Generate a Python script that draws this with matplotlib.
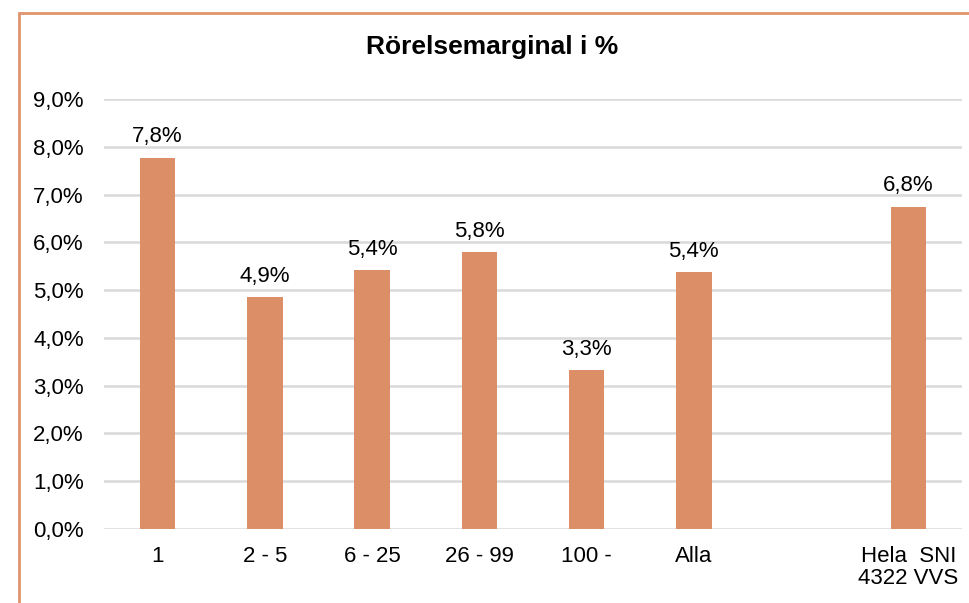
import matplotlib.pyplot as plt
from matplotlib.patches import Rectangle

plt.rcParams['font.family'] = ['Liberation Sans', 'DejaVu Sans']

# Data
categories = ['1', '2 - 5', '6 - 25', '26 - 99', '100 -', 'Alla', '', 'Hela  SNI\n4322 VVS']
values = [7.77, 4.86, 5.42, 5.80, 3.32, 5.38, None, 6.75]
yticks = [0, 1, 2, 3, 4, 5, 6, 7, 8, 9]

bar_color = '#DC8F66'

fig = plt.figure(figsize=(9.7, 6.03), dpi=100)
ax = fig.add_axes([104 / 970, 1 - 529 / 603, 858 / 970, 430 / 603])

xs = [i for i, v in enumerate(values) if v is not None]
vs = [v for v in values if v is not None]
bars = ax.bar(xs, vs, width=0.33, color=bar_color, zorder=3)

for x, v in zip(xs, vs):
    ax.annotate(f'{v:.1f}%'.replace('.', ','), (x, v), xytext=(0, 11),
                textcoords='offset points', ha='center', va='baseline', fontsize=16)

ax.set_xlim(-0.5, len(categories) - 0.5)
ax.set_ylim(0, 9)
ax.set_xticks(range(len(categories)))
ax.set_xticklabels(categories, fontsize=16, linespacing=1.1)
ax.set_yticks(yticks)
ax.set_yticklabels([f'{t:.1f}%'.replace('.', ',') for t in yticks], fontsize=16)
ax.tick_params(length=0)
ax.tick_params(axis='x', pad=12)
ax.tick_params(axis='y', pad=14.4)
ax.grid(axis='y', color='#d9d9d9', linewidth=1.8, zorder=0)
for s in ax.spines.values():
    s.set_visible(False)

fig.text(492 / 970, 1 - 47 / 603, 'Rörelsemarginal i %', ha='center', va='center',
         fontsize=19, fontweight='bold')

# orange frame around chart area (runs off right and bottom edges)
fig.patches.append(Rectangle((18.5 / 970, -0.05), 1.1, 1 - 12.5 / 603 + 0.05,
                             transform=fig.transFigure, fill=False,
                             edgecolor='#E0946B', linewidth=2, clip_on=False))

fig.savefig('out.png', dpi=100)
